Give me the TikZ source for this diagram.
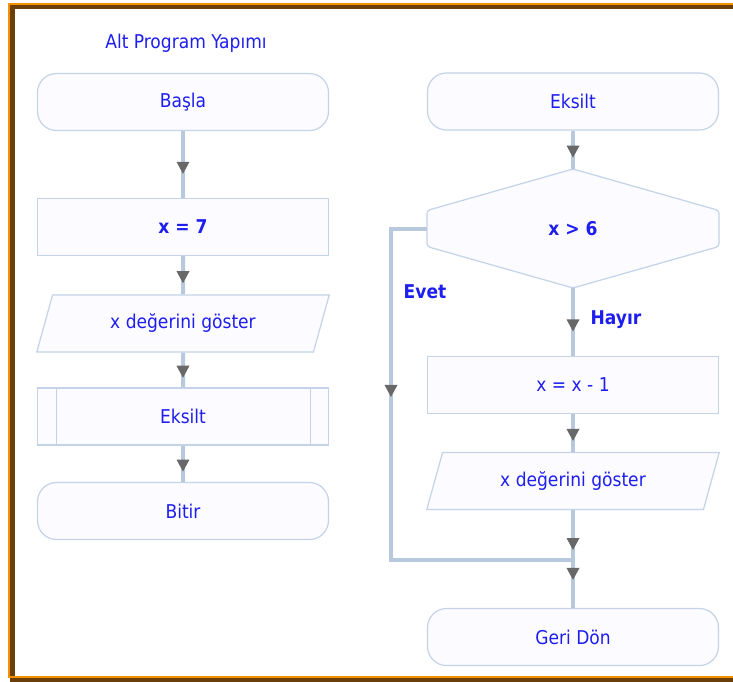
\documentclass[tikz,border=0pt]{standalone}
\usepackage{fontspec}
\setmainfont{DejaVu Sans Condensed}
\usetikzlibrary{shapes.geometric,decorations.markings,calc}
\newcommand{\boxw}{291pt}
\newcommand{\boxh}{57pt}
\newcommand{\txtfont}{\fontsize{19}{22}\selectfont}
\definecolor{txtblue}{HTML}{1E1EF0}
\definecolor{edgeblue}{HTML}{C4D3E7}
\definecolor{flowgray}{HTML}{B9C9DD}
\definecolor{tipgray}{HTML}{686868}
\definecolor{boxfill}{HTML}{FCFBFF}
\definecolor{frameorange}{HTML}{F39200}
\definecolor{framebrown}{HTML}{6B3F0A}
\tikzset{
    basesty/.style={draw=edgeblue,line width=1.2pt,fill=boxfill,text=txtblue,font=\txtfont,
        minimum width=\boxw,minimum height=\boxh,inner sep=0pt,anchor=center},
    termsty/.style={basesty,rectangle,rounded corners=19pt},
    procsty/.style={basesty,rectangle},
    iosty/.style={basesty,trapezium,trapezium left angle=65,trapezium right angle=115,
        trapezium stretches=true,minimum width=293pt},
    substy/.style={basesty,rectangle,path picture={
        \draw[edgeblue,line width=1.2pt]
            ([xshift=19pt]path picture bounding box.north west) -- ([xshift=19pt]path picture bounding box.south west)
            ([xshift=-18pt]path picture bounding box.north east) -- ([xshift=-18pt]path picture bounding box.south east);}},
    hexsty/.style={draw=edgeblue,line width=1.2pt,fill=boxfill,rounded corners=3pt},
    decsty/.style={text=txtblue,font=\txtfont\bfseries,minimum width=292pt,minimum height=119pt,inner sep=0pt},
    linesty/.style={draw=flowgray,line width=4pt},
    flowsty/.style={linesty,postaction={decorate},decoration={markings,
        mark=at position #1 with {\fill[tipgray] (6pt,0) -- (-6pt,6.5pt) -- (-6pt,-6.5pt) -- cycle;}}},
    flowsty/.default=0.55,
    lblsty/.style={text=txtblue,font=\txtfont\bfseries},
    titlesty/.style={text=txtblue,font=\txtfont},
}

\begin{document}
\begin{tikzpicture}[x=1pt,y=-1pt]
\fill[white] (0,0) rectangle (733,682);
\useasboundingbox (0,0) rectangle (733,682);
% frame
\begin{scope}
\clip (0,0) rectangle (733,682);
\draw[framebrown,line width=4.5pt] (12.5,7) rectangle (760,680);
\draw[frameorange,line width=2.5pt] (9,4) rectangle (760,677);
\end{scope}

\node[titlesty] (title) at (186,43) {Alt Program Yapımı};

% main program
\node[termsty] (basla) at (183,102) {Başla};
\node[procsty,font=\txtfont\bfseries] (xset) at (183,227) {x = 7};
\node[iosty] (goster) at (183,323.5) {x değerini göster};
\node[substy] (eksilt) at (183,416.5) {Eksilt};
\node[termsty] (bitir) at (183,511) {Bitir};

% subprogram
\node[termsty] (alt) at (573,101.5) {Eksilt};
\coordinate (decc) at (573,228.5);
\draw[hexsty] ($(decc)+(0,-59.5)$) -- ($(decc)+(146,-18)$) -- ($(decc)+(146,18)$)
    -- ($(decc)+(0,59.5)$) -- ($(decc)+(-146,18)$) -- ($(decc)+(-146,-18)$) -- cycle;
\node[decsty] (dec) at (decc) {x > 6};
\node[procsty] (azalt) at (573,385) {x = x - 1};
\node[iosty] (goster2) at (573,481) {x değerini göster};
\node[termsty] (geri) at (573,637) {Geri Dön};

\coordinate (evet1) at (391,228.5);
\coordinate (evet2) at (391,560);
\coordinate (merge) at (573,560);

\node[lblsty] (evet) at (425,292) {Evet};
\node[lblsty] (hayir) at (616,320) {Hayır};

\draw[flowsty] (basla) -- (xset);
\draw[flowsty] (xset) -- (goster);
\draw[flowsty] (goster) -- (eksilt);
\draw[flowsty] (eksilt) -- (bitir);

\draw[flowsty] (alt) -- (dec.north);
\draw[flowsty] (dec.south) -- (azalt);
\draw[flowsty] (azalt) -- (goster2);
\draw[flowsty=0.68] (goster2) -- (merge);
\draw[linesty] (dec.west) -- (evet1) -- (evet2) -- (merge);
\draw[flowsty=0.49] (evet1) -- (evet2);
\draw[flowsty=0.29] (merge) -- (geri);
\end{tikzpicture}
\end{document}
